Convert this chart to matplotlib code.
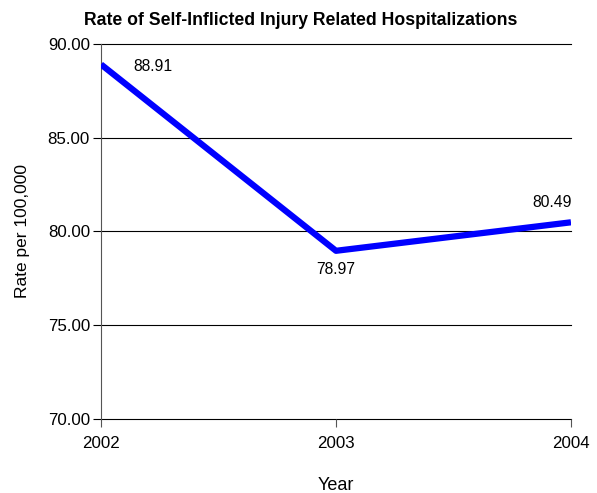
import matplotlib.pyplot as plt

plt.rcParams['font.family'] = ['Liberation Sans', 'DejaVu Sans']

years = ['2002', '2003', '2004']
rates = [88.91, 78.97, 80.49]
yticks = [70, 75, 80, 85, 90]

fig = plt.figure(figsize=(5.97, 4.93), dpi=100)
ax = fig.add_axes([0.1692, 0.1501, 0.7872, 0.7607])

x = list(range(len(years)))
ax.plot(x, rates, color='#0000ff', linewidth=4.5, solid_capstyle='butt', zorder=3)

# value labels
offsets = [(0.22, -0.1), (0.0, -1.0), (-0.08, 1.05)]
for xi, v, (dx, dy) in zip(x, rates, offsets):
    ax.text(xi + dx, v + dy, f'{v:.2f}', ha='center', va='center', fontsize=11.3)

ax.set_xlim(0, 2)
ax.set_ylim(70, 90)
ax.set_xticks(x)
ax.set_xticklabels(years, fontsize=12.2)
ax.set_yticks(yticks)
ax.set_yticklabels([f'{t:.2f}' for t in yticks], fontsize=12.2)
for t in yticks:
    ax.axhline(t, color='black', linewidth=0.8, clip_on=False, zorder=1)

for s in ['top', 'right', 'bottom']:
    ax.spines[s].set_visible(False)
ax.spines['left'].set_color('#555555')
ax.spines['left'].set_linewidth(0.8)
ax.tick_params(axis='x', length=6, width=0.8, color='#555555', pad=6)
ax.tick_params(axis='y', length=6, width=0.8, color='black', pad=2)

ax.set_xlabel('Year', fontsize=13, labelpad=19)
ax.set_ylabel('Rate per 100,000', fontsize=12.5, labelpad=13)
fig.suptitle('Rate of Self-Inflicted Injury Related Hospitalizations', fontsize=12.7,
             fontweight='bold', x=0.503, y=0.976)

fig.savefig('out.png', dpi=100)
